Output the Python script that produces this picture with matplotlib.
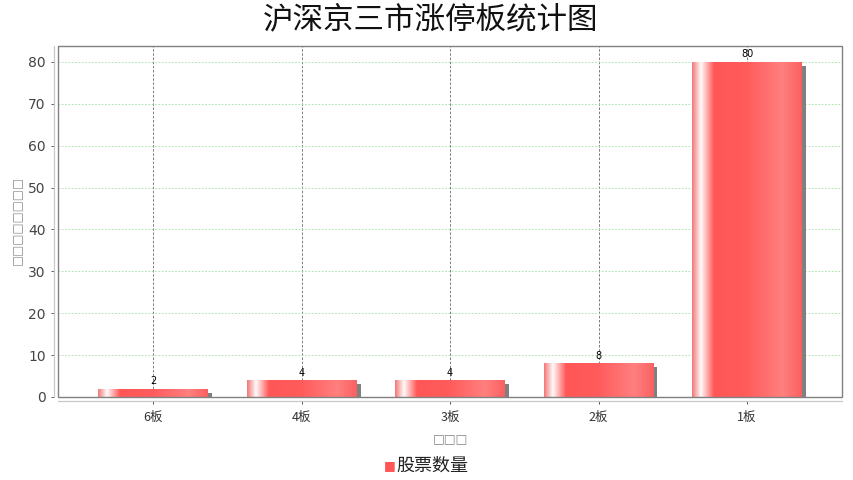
import numpy as np
import matplotlib
matplotlib.use('Agg')
import matplotlib.pyplot as plt
import matplotlib.transforms as mtransforms
from matplotlib.colors import LinearSegmentedColormap
from matplotlib.patches import Rectangle

plt.rcParams['font.family'] = ['Noto Sans CJK SC', 'DejaVu Sans']

categories = ['6板', '4板', '3板', '2板', '1板']
counts = [2, 4, 4, 8, 80]
title = '沪深京三市涨停板统计图'
series_name = '股票数量'
x_label = '□□□'
y_label = '□□□□□□□□'

# gradient like a java bar painter
cmap = LinearSegmentedColormap.from_list('bar', [
    (0.0, (0.95, 0.47, 0.47)),
    (0.08, (1.0, 0.98, 0.98)),
    (0.2, (1.0, 0.34, 0.34)),
    (0.5, (1.0, 0.36, 0.36)),
    (0.82, (1.0, 0.5, 0.5)),
    (1.0, (0.98, 0.38, 0.38)),
])

fig = plt.figure(figsize=(8.54, 4.8), dpi=100)
ax = fig.add_axes([0.068, 0.173, 0.918, 0.731])

x = np.arange(len(categories))
w = 0.74

grad = np.linspace(0, 1, 256).reshape(1, -1)
shadow_tr = ax.transData + mtransforms.ScaledTranslation(4 / 100, -4 / 100, fig.dpi_scale_trans)
for xi, v in zip(x, counts):
    sh = Rectangle((xi - w / 2, 0), w, v, transform=shadow_tr, facecolor='#808080',
                   edgecolor='none', zorder=2)
    sh.set_clip_box(ax.bbox)
    ax.add_patch(sh)
    rect = Rectangle((xi - w / 2, 0), w, v, facecolor='none', edgecolor='none', zorder=3)
    ax.add_patch(rect)
    im = ax.imshow(grad, cmap=cmap, extent=(xi - w / 2, xi + w / 2, 0, v),
                   aspect='auto', zorder=3, interpolation='bilinear')
    im.set_clip_path(rect)
    ax.text(xi, v + 0.6, str(v), ha='center', va='bottom', fontsize=7, color='black',
            family='DejaVu Sans', zorder=5)

ax.set_xlim(-0.64, len(categories) - 1 + 0.64)
ax.set_ylim(0, 83.8)

ax.yaxis.grid(True, color='#9ee09e', linestyle=(0, (2, 2)), linewidth=0.6, zorder=0)
ax.xaxis.grid(True, color='#666666', linestyle=(0, (3, 2)), linewidth=0.6, zorder=0)
ax.set_axisbelow(True)

# axis lines sit a little outside the plot frame
ax.spines['top'].set_visible(False)
ax.spines['right'].set_visible(False)
for side in ['left', 'bottom']:
    ax.spines[side].set_position(('outward', 3))
    ax.spines[side].set_color('#c8c8c8')
    ax.spines[side].set_linewidth(0.9)
ax.add_patch(Rectangle((0, 0), 1, 1, transform=ax.transAxes, fill=False,
                       edgecolor='#808080', linewidth=1.0, clip_on=False, zorder=6))

ax.set_yticks(np.arange(0, 81, 10))
ax.set_xticks(x)
ax.set_xticklabels(categories)
ax.tick_params(axis='y', labelsize=10, colors='#444444', length=2, width=0.6, pad=4,
               labelfontfamily='DejaVu Sans')
ax.tick_params(axis='x', labelsize=9, length=2, width=0.6, colors='#333333', pad=5)

fig.text(0.504, 0.958, title, ha='center', va='center', fontsize=22, color='#111111')
fig.text(0.527, 0.087, x_label, ha='center', va='center', fontsize=9, color='#888888',
         family='DejaVu Sans')
fig.text(0.021, 0.54, y_label, ha='center', va='center', fontsize=8.5, color='#888888',
         rotation=90, family='DejaVu Sans')

# legend
fig.text(0.456, 0.031, '■', ha='center', va='center', fontsize=9, color='#ff5555',
         family='DejaVu Sans')
fig.text(0.464, 0.029, series_name, ha='left', va='center', fontsize=13, color='#222222')

fig.savefig('out.png', dpi=100)
